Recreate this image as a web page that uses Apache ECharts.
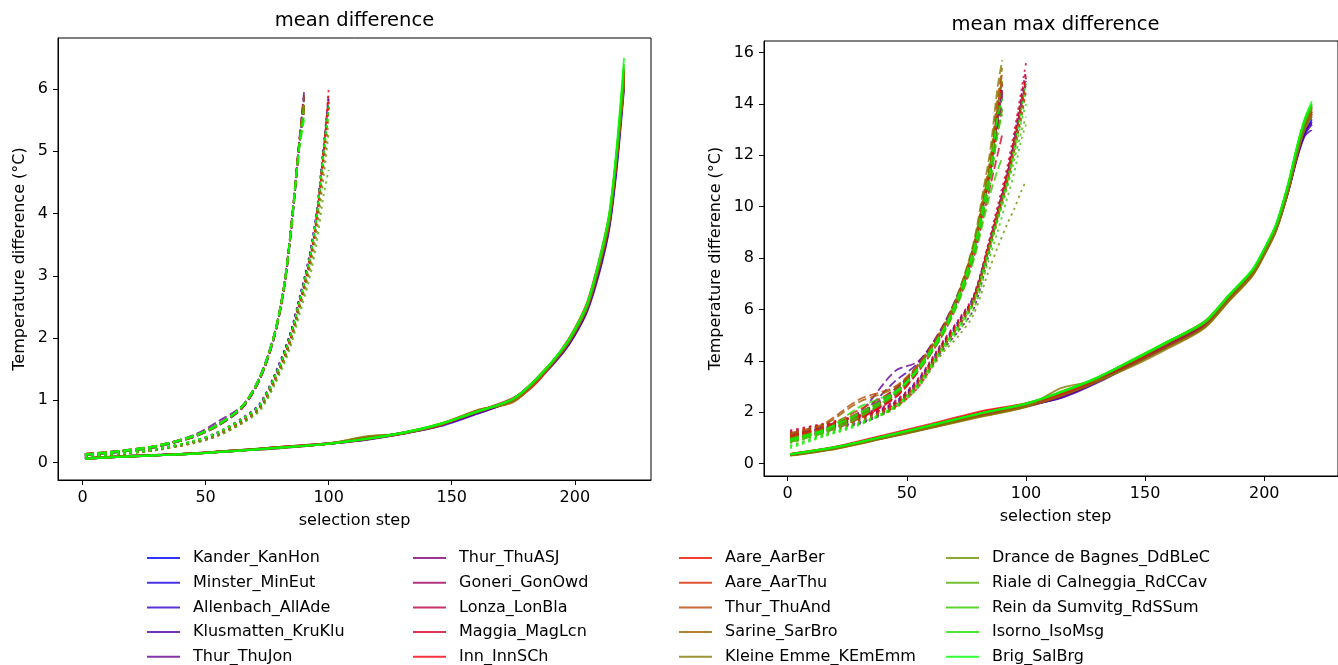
<!DOCTYPE html>
<html>
<head>
<meta charset="utf-8">
<script src="https://cdn.jsdelivr.net/npm/echarts@6/dist/echarts.min.js"></script>
<style>html,body{margin:0;padding:0;background:#fff}#c{width:1338px;height:665px}</style>
</head>
<body>
<div id="c"></div>
<script>
// ---------- data ----------
const stations = ['Kander_KanHon','Minster_MinEut','Allenbach_AllAde','Klusmatten_KruKlu','Thur_ThuJon',
  'Thur_ThuASJ','Goneri_GonOwd','Lonza_LonBla','Maggia_MagLcn','Inn_InnSCh',
  'Aare_AarBer','Aare_AarThu','Thur_ThuAnd','Sarine_SarBro','Kleine Emme_KEmEmm',
  'Drance de Bagnes_DdBLeC','Riale di Calneggia_RdCCav','Rein da Sumvitg_RdSSum','Isorno_IsoMsg','Brig_SalBrg'];

// selection steps at which values were read
const stepSolid = [1,20,40,60,80,100,115,130,145,160,175,185,195,200,205,210,214,217,220];
const stepDash  = [1,15,30,45,55,65,72,78,82,85,88,90];
const stepDot   = [1,15,30,45,55,65,72,78,84,88,92,95,98,100];

const xTicks = [0,50,100,150,200];
const yTicksMean = [0,1,2,3,4,5,6];
const yTicksMax = [0,2,4,6,8,10,12,14,16];

// mean difference
const meanSolid = [
[0.07,0.10,0.14,0.18,0.24,0.31,0.37,0.47,0.59,0.79,1.00,1.33,1.76,2.05,2.45,3.10,3.80,4.80,6.10],
[0.06,0.10,0.13,0.19,0.25,0.30,0.38,0.48,0.60,0.81,1.03,1.36,1.79,2.08,2.48,3.15,3.85,4.85,6.15],
[0.07,0.11,0.14,0.18,0.24,0.30,0.37,0.46,0.58,0.78,1.01,1.34,1.77,2.06,2.44,3.08,3.78,4.75,6.05],
[0.06,0.10,0.13,0.18,0.23,0.30,0.36,0.46,0.59,0.78,1.00,1.32,1.75,2.04,2.42,3.05,3.75,4.70,6.00],
[0.06,0.10,0.14,0.19,0.24,0.31,0.38,0.47,0.60,0.80,1.02,1.35,1.78,2.07,2.46,3.12,3.82,4.82,6.10],
[0.07,0.10,0.13,0.18,0.24,0.30,0.39,0.48,0.61,0.82,1.03,1.37,1.80,2.10,2.50,3.18,3.88,4.88,6.20],
[0.06,0.11,0.14,0.18,0.25,0.31,0.38,0.47,0.60,0.80,1.01,1.36,1.81,2.12,2.52,3.22,3.92,4.92,6.25],
[0.07,0.10,0.13,0.19,0.24,0.30,0.37,0.48,0.61,0.81,1.02,1.34,1.80,2.11,2.51,3.20,3.90,4.90,6.30],
[0.06,0.10,0.14,0.18,0.24,0.31,0.38,0.47,0.60,0.82,1.04,1.33,1.82,2.14,2.55,3.25,3.95,4.95,6.20],
[0.07,0.11,0.13,0.18,0.25,0.30,0.38,0.46,0.62,0.83,1.00,1.30,1.84,2.16,2.58,3.28,4.00,5.00,6.30],
[0.06,0.10,0.14,0.19,0.24,0.30,0.39,0.47,0.61,0.82,1.02,1.36,1.82,2.13,2.53,3.22,3.95,4.95,6.25],
[0.07,0.10,0.13,0.18,0.25,0.31,0.38,0.48,0.60,0.81,1.03,1.37,1.80,2.11,2.50,3.18,3.90,4.90,6.15],
[0.06,0.10,0.14,0.18,0.24,0.30,0.40,0.47,0.59,0.83,0.98,1.32,1.79,2.09,2.49,3.16,3.86,4.86,6.10],
[0.07,0.11,0.13,0.19,0.24,0.31,0.41,0.46,0.60,0.84,0.97,1.33,1.78,2.08,2.47,3.14,3.84,4.84,6.05],
[0.06,0.10,0.13,0.18,0.23,0.30,0.42,0.47,0.61,0.82,0.99,1.38,1.81,2.10,2.50,3.20,3.90,4.90,6.10],
[0.07,0.10,0.14,0.18,0.24,0.31,0.38,0.48,0.62,0.81,1.01,1.36,1.82,2.12,2.52,3.22,3.93,4.95,6.20],
[0.06,0.11,0.13,0.19,0.25,0.30,0.37,0.47,0.61,0.80,1.02,1.35,1.81,2.11,2.51,3.21,3.92,4.95,6.30],
[0.07,0.10,0.14,0.18,0.24,0.30,0.38,0.48,0.62,0.82,1.03,1.37,1.83,2.14,2.55,3.26,3.98,5.02,6.35],
[0.06,0.10,0.13,0.18,0.24,0.31,0.38,0.47,0.61,0.81,1.02,1.36,1.82,2.13,2.54,3.24,3.96,5.00,6.40],
[0.06,0.10,0.13,0.18,0.24,0.30,0.38,0.48,0.62,0.82,1.03,1.37,1.83,2.15,2.56,3.28,4.02,5.08,6.50]];

const meanDash = [
[0.12,0.18,0.25,0.41,0.59,0.88,1.33,2.02,2.82,3.80,5.05,5.85],
[0.13,0.17,0.26,0.42,0.61,0.90,1.36,2.06,2.86,3.86,5.10,5.80],
[0.12,0.18,0.26,0.41,0.60,0.89,1.34,2.04,2.84,3.84,5.08,5.75],
[0.13,0.18,0.27,0.43,0.62,0.91,1.37,2.07,2.87,3.88,5.12,5.90],
[0.14,0.19,0.27,0.44,0.66,0.92,1.38,2.08,2.88,3.90,5.15,5.95],
[0.13,0.18,0.26,0.43,0.61,0.91,1.36,2.06,2.86,3.86,5.10,5.85],
[0.12,0.17,0.25,0.42,0.60,0.90,1.35,2.05,2.85,3.85,5.08,5.70],
[0.13,0.18,0.26,0.42,0.60,0.89,1.34,2.04,2.84,3.84,5.06,5.60],
[0.14,0.18,0.26,0.41,0.59,0.88,1.33,2.03,2.83,3.82,5.04,5.65],
[0.13,0.19,0.27,0.42,0.60,0.90,1.36,2.06,2.86,3.88,5.14,5.80],
[0.14,0.18,0.26,0.42,0.61,0.90,1.35,2.05,2.85,3.85,5.10,5.75],
[0.13,0.18,0.26,0.41,0.60,0.89,1.34,2.04,2.84,3.84,5.08,5.70],
[0.14,0.19,0.27,0.43,0.61,0.91,1.36,2.07,2.88,3.88,5.12,5.85],
[0.13,0.18,0.27,0.42,0.60,0.90,1.35,2.06,2.86,3.86,5.10,5.90],
[0.12,0.18,0.26,0.41,0.59,0.89,1.34,2.05,2.85,3.85,5.08,5.80],
[0.13,0.17,0.25,0.42,0.60,0.90,1.35,2.05,2.85,3.84,5.06,5.70],
[0.13,0.18,0.26,0.43,0.61,0.91,1.36,2.06,2.86,3.86,5.10,5.75],
[0.12,0.18,0.27,0.42,0.60,0.90,1.35,2.05,2.85,3.85,5.08,5.65],
[0.13,0.18,0.26,0.42,0.61,0.91,1.37,2.07,2.87,3.86,5.05,5.55],
[0.13,0.19,0.27,0.43,0.61,0.91,1.36,2.06,2.86,3.85,5.02,5.50]];

const meanDot = [
[0.10,0.14,0.21,0.34,0.48,0.70,0.93,1.38,2.00,2.60,3.25,3.95,5.05,5.80],
[0.10,0.14,0.21,0.33,0.47,0.69,0.92,1.37,1.98,2.58,3.22,3.92,5.02,5.75],
[0.11,0.15,0.22,0.34,0.48,0.71,0.94,1.40,2.02,2.62,3.28,3.98,5.08,5.85],
[0.10,0.14,0.21,0.33,0.47,0.70,0.93,1.39,2.00,2.60,3.24,3.94,5.04,5.70],
[0.10,0.15,0.22,0.34,0.49,0.72,0.95,1.41,2.03,2.63,3.30,4.00,5.10,5.90],
[0.11,0.14,0.21,0.33,0.46,0.68,0.90,1.35,1.95,2.55,3.20,3.90,5.00,5.75],
[0.10,0.14,0.20,0.32,0.45,0.67,0.89,1.33,1.93,2.53,3.18,3.88,4.98,5.70],
[0.10,0.14,0.21,0.32,0.45,0.66,0.88,1.32,1.92,2.52,3.16,3.86,4.96,5.80],
[0.11,0.15,0.21,0.32,0.44,0.65,0.87,1.30,1.90,2.50,3.15,3.85,4.95,5.95],
[0.10,0.14,0.20,0.31,0.43,0.64,0.86,1.28,1.88,2.48,3.14,3.86,5.00,6.00],
[0.11,0.14,0.21,0.32,0.44,0.65,0.87,1.31,1.91,2.51,3.17,3.88,4.98,5.85],
[0.10,0.15,0.21,0.32,0.45,0.66,0.88,1.32,1.92,2.52,3.18,3.90,5.00,5.80],
[0.10,0.14,0.21,0.33,0.46,0.67,0.89,1.34,1.94,2.54,3.20,3.92,5.02,5.75],
[0.11,0.14,0.21,0.33,0.46,0.68,0.90,1.35,1.95,2.55,3.20,3.90,4.95,5.65],
[0.10,0.14,0.21,0.32,0.45,0.66,0.87,1.30,1.88,2.46,3.08,3.75,4.75,5.50],
[0.10,0.14,0.20,0.32,0.44,0.64,0.85,1.27,1.85,2.42,3.02,3.65,4.60,5.30],
[0.10,0.13,0.20,0.31,0.43,0.63,0.83,1.24,1.80,2.35,2.92,3.50,4.30,4.70],
[0.11,0.15,0.22,0.34,0.48,0.70,0.92,1.37,1.97,2.57,3.22,3.92,5.00,5.70],
[0.10,0.14,0.22,0.35,0.49,0.71,0.93,1.38,1.98,2.58,3.24,3.94,5.04,5.75],
[0.11,0.15,0.22,0.35,0.48,0.70,0.92,1.36,1.96,2.56,3.20,3.90,4.98,5.60]];

// mean max difference
const maxSolid = [
[0.33,0.60,1.00,1.42,1.86,2.22,2.60,3.20,3.90,4.62,5.40,6.45,7.35,8.15,9.10,10.55,12.00,12.85,13.40],
[0.34,0.61,1.01,1.44,1.88,2.25,2.62,3.22,3.92,4.65,5.42,6.48,7.40,8.20,9.15,10.60,12.05,12.90,13.30],
[0.32,0.60,0.99,1.40,1.85,2.24,2.58,3.18,3.88,4.60,5.38,6.42,7.38,8.18,9.12,10.58,12.02,12.80,13.20],
[0.33,0.61,1.00,1.41,1.87,2.26,2.56,3.15,3.86,4.58,5.35,6.40,7.36,8.16,9.10,10.55,11.95,12.75,13.00],
[0.34,0.62,1.01,1.43,1.88,2.27,2.60,3.20,3.92,4.64,5.42,6.50,7.42,8.22,9.16,10.62,12.05,12.95,13.25],
[0.35,0.62,1.02,1.45,1.90,2.28,2.68,3.26,3.96,4.68,5.44,6.46,7.44,8.24,9.18,10.66,12.15,13.05,13.50],
[0.36,0.63,1.04,1.47,1.93,2.30,2.72,3.30,4.00,4.72,5.48,6.48,7.46,8.26,9.22,10.72,12.22,13.12,13.60],
[0.36,0.64,1.05,1.48,1.95,2.32,2.74,3.32,4.02,4.74,5.50,6.50,7.48,8.28,9.24,10.75,12.28,13.20,13.70],
[0.37,0.65,1.07,1.50,1.98,2.34,2.75,3.34,4.04,4.76,5.52,6.52,7.50,8.30,9.28,10.80,12.32,13.25,13.85],
[0.38,0.66,1.10,1.55,2.02,2.36,2.76,3.35,4.05,4.78,5.54,6.54,7.52,8.34,9.30,10.85,12.40,13.35,13.90],
[0.37,0.64,1.06,1.50,1.96,2.33,2.74,3.33,4.02,4.74,5.50,6.50,7.48,8.28,9.25,10.78,12.30,13.22,13.75],
[0.36,0.63,1.04,1.47,1.92,2.30,2.72,3.30,3.98,4.70,5.46,6.44,7.44,8.24,9.20,10.72,12.25,13.18,13.65],
[0.34,0.60,1.00,1.42,1.86,2.24,2.66,3.22,3.90,4.60,5.36,6.36,7.36,8.16,9.12,10.62,12.15,13.10,13.70],
[0.32,0.58,0.98,1.40,1.82,2.20,2.64,3.18,3.85,4.55,5.30,6.30,7.30,8.10,9.05,10.55,12.10,13.05,13.60],
[0.31,0.57,0.97,1.38,1.80,2.22,2.95,3.25,3.80,4.50,5.28,6.32,7.32,8.14,9.10,10.60,12.12,13.00,13.55],
[0.35,0.62,1.03,1.46,1.91,2.30,2.78,3.32,4.00,4.72,5.46,6.46,7.46,8.28,9.24,10.76,12.28,13.20,13.80],
[0.36,0.63,1.04,1.48,1.93,2.32,2.80,3.34,4.03,4.75,5.50,6.50,7.50,8.32,9.28,10.82,12.36,13.30,13.90],
[0.37,0.64,1.05,1.49,1.94,2.34,2.82,3.36,4.06,4.78,5.52,6.53,7.53,8.35,9.32,10.88,12.42,13.38,14.00],
[0.36,0.64,1.05,1.48,1.94,2.33,2.78,3.34,4.04,4.76,5.50,6.52,7.52,8.34,9.30,10.86,12.40,13.36,13.95],
[0.37,0.65,1.06,1.50,1.95,2.35,2.80,3.36,4.06,4.78,5.54,6.56,7.56,8.38,9.34,10.90,12.46,13.44,14.10]];

const maxDash = [
[1.05,1.35,1.90,2.80,3.80,5.20,6.60,8.30,10.0,11.4,13.4,14.5],
[0.95,1.28,1.80,2.70,3.75,5.15,6.55,8.25,9.95,11.3,13.3,14.4],
[1.10,1.40,1.95,2.90,3.85,5.25,6.65,8.35,10.1,11.5,13.5,14.7],
[1.00,1.35,1.90,3.20,3.95,5.30,6.70,8.40,10.1,11.5,13.4,14.6],
[1.15,1.45,2.00,3.60,4.00,5.35,6.75,8.45,10.2,11.6,13.6,14.8],
[1.00,1.30,1.85,2.70,3.75,5.10,6.50,8.20,9.90,11.3,13.2,14.3],
[0.90,1.25,1.80,2.65,3.70,5.10,6.50,8.20,9.90,11.2,13.0,14.0],
[0.95,1.25,1.80,2.60,3.65,5.05,6.45,8.10,9.80,11.1,12.9,13.8],
[0.85,1.20,1.75,2.55,3.60,5.00,6.40,8.00,9.60,10.8,12.0,12.8],
[0.90,1.25,1.80,2.60,3.65,5.10,6.60,8.40,10.2,11.6,13.8,15.0],
[1.05,1.35,1.95,2.75,3.80,5.20,6.60,8.35,10.1,11.5,13.6,14.8],
[1.10,1.40,2.10,2.90,3.85,5.25,6.65,8.30,10.0,11.4,13.4,14.5],
[1.20,1.55,2.50,3.00,3.90,5.30,6.70,8.45,10.2,11.7,13.9,15.2],
[1.15,1.50,2.40,2.95,3.85,5.25,6.70,8.50,10.4,11.9,14.2,15.4],
[1.00,1.35,2.00,2.80,3.80,5.20,6.75,8.60,10.6,12.2,14.6,15.7],
[0.95,1.30,1.90,2.70,3.75,5.15,6.60,8.40,10.2,11.6,13.7,14.9],
[0.90,1.25,1.85,2.65,3.70,5.10,6.50,8.20,9.80,11.0,12.8,13.6],
[0.85,1.20,1.80,2.75,3.65,5.00,6.35,7.90,9.40,10.5,11.4,11.9],
[0.90,1.25,2.20,2.80,3.70,5.05,6.45,8.10,9.70,11.0,12.8,13.8],
[0.95,1.30,1.95,2.75,3.75,5.15,6.60,8.30,10.0,11.4,13.4,14.2]];

const maxDot = [
[1.05,1.40,1.80,2.40,3.30,4.70,5.60,6.50,8.40,9.80,11.2,12.6,14.1,15.0],
[1.00,1.35,1.75,2.35,3.25,4.65,5.55,6.45,8.35,9.75,11.2,12.5,14.0,14.9],
[0.95,1.30,1.70,2.30,3.20,4.60,5.50,6.40,8.30,9.70,11.1,12.4,13.9,14.8],
[1.10,1.45,1.60,2.25,3.15,4.55,5.45,6.35,8.25,9.65,11.1,12.4,13.9,14.9],
[1.00,1.40,1.55,2.20,3.10,4.40,5.20,6.00,8.00,9.60,11.0,12.4,13.9,15.0],
[1.05,1.40,1.80,2.35,3.25,4.65,5.55,6.45,8.35,9.75,11.2,12.5,14.0,15.0],
[1.20,1.50,1.85,2.40,3.30,4.70,5.60,6.50,8.40,9.80,11.3,12.6,14.2,15.2],
[1.25,1.55,1.90,2.45,3.35,4.75,5.65,6.55,8.45,9.85,11.3,12.7,14.3,15.3],
[1.30,1.55,1.85,2.30,3.20,4.60,5.50,6.40,8.50,10.0,11.5,12.9,14.5,15.6],
[1.10,1.45,1.80,2.20,3.00,4.50,5.40,6.30,8.20,9.60,11.0,12.2,13.5,14.5],
[1.15,1.50,1.85,2.35,3.25,4.65,5.55,6.45,8.35,9.75,11.2,12.5,14.0,15.1],
[1.05,1.40,1.75,2.30,3.20,4.60,5.50,6.40,8.30,9.70,11.1,12.4,13.9,14.9],
[1.00,1.35,1.70,2.25,3.15,4.55,5.45,6.35,8.25,9.65,11.0,12.3,13.8,14.8],
[0.95,1.30,1.70,2.25,3.15,4.50,5.40,6.30,8.20,9.55,10.9,12.2,13.6,14.6],
[0.90,1.25,1.65,2.20,3.10,4.50,5.35,6.25,8.15,9.50,10.8,12.1,13.4,14.5],
[0.85,1.20,1.60,2.15,3.00,4.30,5.00,5.80,7.40,8.40,9.30,9.90,10.6,11.0],
[0.80,1.15,1.60,2.20,3.10,4.45,5.30,6.20,8.00,9.40,10.7,11.8,12.9,13.5],
[0.70,1.10,1.55,2.15,3.00,4.40,5.20,6.00,7.80,9.00,10.3,11.3,12.6,13.2],
[0.60,1.05,1.50,2.20,3.10,4.50,5.35,6.25,8.10,9.45,10.8,12.0,13.3,14.0],
[0.65,1.10,1.55,2.25,3.15,4.55,5.45,6.35,8.25,9.65,11.0,12.3,13.8,14.8]];

// ---------- styles ----------
const colors = ['rgba(0,0,255,0.8)','rgba(27,0,228,0.8)','rgba(54,0,201,0.8)','rgba(81,0,174,0.8)','rgba(107,0,148,0.8)',
  'rgba(134,0,121,0.8)','rgba(161,0,94,0.8)','rgba(188,0,67,0.8)','rgba(215,0,40,0.8)','rgba(242,0,13,0.8)',
  'rgba(242,13,0,0.8)','rgba(215,40,0,0.8)','rgba(188,67,0,0.8)','rgba(161,94,0,0.8)','rgba(134,121,0,0.8)',
  'rgba(107,148,0,0.8)','rgba(81,174,0,0.8)','rgba(54,201,0,0.8)','rgba(27,228,0,0.8)','rgba(0,255,0,0.8)'];
const FONT = 'DejaVu Sans';
const DASH = [8.9, 3.8];
const DOT = [2.4, 4];

function pairs(xs, ys) { return xs.map((x, k) => [x, ys[k]]); }

const series = [];
const plots = [
  {g: 0, solid: meanSolid, dash: meanDash, dot: meanDot},
  {g: 1, solid: maxSolid, dash: maxDash, dot: maxDot}
];
plots.forEach(p => {
  stations.forEach((name, i) => {
    const base = {type: 'line', name: name, xAxisIndex: p.g, yAxisIndex: p.g, symbol: 'none', showSymbol: false,
      smooth: 0.3, silent: true, animation: false, emphasis: {disabled: true}, itemStyle: {color: colors[i]}};
    series.push(Object.assign({}, base, {data: pairs(stepSolid, p.solid[i]), lineStyle: {color: colors[i], width: 1.8, type: 'solid'}}));
    series.push(Object.assign({}, base, {data: pairs(stepDash, p.dash[i]), lineStyle: {color: colors[i], width: 1.8, type: DASH}}));
    series.push(Object.assign({}, base, {data: pairs(stepDot, p.dot[i]), lineStyle: {color: colors[i], width: 1.8, type: DOT}}));
  });
});

function mkX(g) {
  return {type: 'value', gridIndex: g, min: -9.95, max: 230.95, splitLine: {show: false},
    axisLine: {show: true, onZero: false, lineStyle: {color: '#000', width: 1}},
    axisTick: {show: true, length: 5, customValues: xTicks, lineStyle: {color: '#000', width: 1}},
    axisLabel: {customValues: xTicks, color: '#000', fontSize: 16, fontFamily: FONT, margin: 10}};
}
function mkY(g, min, max, ticks) {
  return {type: 'value', gridIndex: g, min: min, max: max, splitLine: {show: false},
    axisLine: {show: true, onZero: false, lineStyle: {color: '#000', width: 1}},
    axisTick: {show: true, length: 5, customValues: ticks, lineStyle: {color: '#000', width: 1}},
    axisLabel: {customValues: ticks, color: '#000', fontSize: 16, fontFamily: FONT, margin: 10}};
}

const legendLefts = [147, 413, 679, 946];
const legends = legendLefts.map((l, c) => ({
  orient: 'vertical', left: l, top: 550, padding: 0, itemGap: 8.7, itemWidth: 33, itemHeight: 2,
  icon: 'rect', selectedMode: false,
  textStyle: {fontSize: 16, fontFamily: FONT, color: '#000', lineHeight: 16, padding: [0, 0, 0, 8]},
  data: stations.slice(c * 5, c * 5 + 5)
}));

function txt(x, y, s, size, rot) {
  return {type: 'text', x: x, y: y, rotation: rot || 0, silent: true,
    style: {text: s, fontSize: size, fontFamily: FONT, fill: '#000', align: 'center', verticalAlign: 'middle'}};
}

const chart = echarts.init(document.getElementById('c'), null, {renderer: 'canvas'});
chart.setOption({
  animation: false,
  backgroundColor: '#fff',
  grid: [
    {left: 58, top: 38, width: 593, height: 442, show: true, borderColor: '#000', borderWidth: 1, backgroundColor: 'transparent'},
    {left: 764, top: 41, width: 583, height: 435, show: true, borderColor: '#000', borderWidth: 1, backgroundColor: 'transparent'}
  ],
  xAxis: [mkX(0), mkX(1)],
  yAxis: [mkY(0, -0.28, 6.82, yTicksMean), mkY(1, -0.48, 16.45, yTicksMax)],
  legend: legends,
  graphic: [
    txt(354.5, 21, 'mean difference', 19.5),
    txt(1055.5, 25, 'mean max difference', 19.5),
    txt(354.5, 521, 'selection step', 16),
    txt(1055.5, 517, 'selection step', 16),
    txt(20, 259, 'Temperature difference (°C)', 16, Math.PI / 2),
    txt(716, 258.5, 'Temperature difference (°C)', 16, Math.PI / 2)
  ],
  series: series
});
</script>
</body>
</html>
